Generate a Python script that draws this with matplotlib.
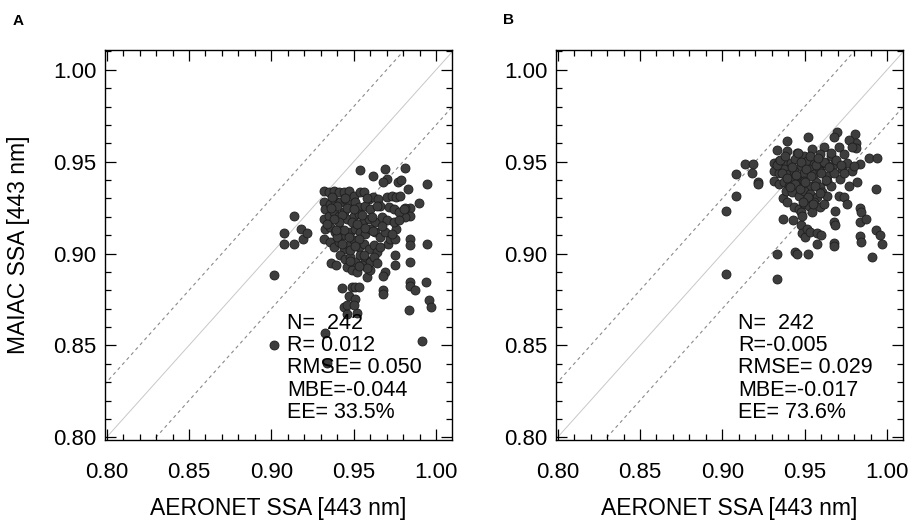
import matplotlib
matplotlib.use("Agg")
import matplotlib.pyplot as plt
from matplotlib.ticker import MultipleLocator, FormatStrFormatter

plt.rcParams['font.family'] = ['Liberation Sans', 'DejaVu Sans']

# ---------------- Panel A data (AERONET SSA, MAIAC SSA) ----------------
a_x = [
    # outliers / sparse points
    0.9017, 0.9017, 0.9078, 0.9078, 0.9139, 0.9139, 0.918, 0.919, 0.9216, 0.9317,
    0.9317, 0.9317, 0.9327, 0.934, 0.936, 0.939, 0.943, 0.944, 0.946, 0.947,
    0.949, 0.951, 0.951, 0.952, 0.953, 0.946, 0.950, 0.954, 0.962, 0.969,
    0.970, 0.968, 0.977, 0.979, 0.981, 0.983, 0.9945, 0.9895, 0.984, 0.981,
    0.984, 0.981, 0.976, 0.984, 0.984, 0.9945, 0.975, 0.975, 0.984, 0.984,
    0.984, 0.987, 0.994, 0.996, 0.997, 0.9834, 0.9915, 0.969, 0.968, 0.968,
    0.968, 0.958, 0.960, 0.971, 0.972, 0.975,
    # main cluster
    0.9348, 0.9378, 0.9408, 0.9439, 0.9469, 0.950, 0.954, 0.956, 0.959, 0.962,
    0.965, 0.970, 0.973, 0.976, 0.978,
    0.9327, 0.9358, 0.9388, 0.9418, 0.9449, 0.9479, 0.951, 0.953, 0.957, 0.960,
    0.9662, 0.9712, 0.9743, 0.9773, 0.9803,
    0.9317, 0.9348, 0.9378, 0.9408, 0.9439, 0.9459, 0.950, 0.953, 0.956, 0.959,
    0.9631, 0.9672, 0.9702, 0.9743, 0.9773,
    0.9327, 0.9358, 0.9388, 0.9418, 0.9449, 0.9479, 0.951, 0.954, 0.957, 0.960,
    0.9631, 0.9662, 0.9692, 0.9733,
    0.9358, 0.9378, 0.9408, 0.9439, 0.9469, 0.950, 0.953, 0.956, 0.959, 0.9621,
    0.9641, 0.9662,
    0.9418, 0.9449, 0.9479, 0.951, 0.954, 0.957, 0.960, 0.9621, 0.9641,
    0.9459, 0.9489, 0.952, 0.955, 0.958,
    # dense core
    0.937, 0.940, 0.943, 0.946, 0.949, 0.941, 0.938, 0.944, 0.947, 0.952,
    0.955, 0.950, 0.936, 0.934, 0.940, 0.943, 0.948, 0.953, 0.957, 0.961,
    0.964, 0.958, 0.945, 0.939, 0.951, 0.956, 0.948, 0.953, 0.962, 0.967,
]
a_y = [
    0.8883, 0.8501, 0.9112, 0.9050, 0.9204, 0.9050, 0.9135, 0.9077, 0.911, 0.934,
    0.928, 0.908, 0.857, 0.8405, 0.8946, 0.894, 0.881, 0.871, 0.867, 0.877,
    0.882, 0.882, 0.875, 0.8676, 0.882, 0.872, 0.872, 0.9454, 0.9423, 0.946,
    0.9405, 0.939, 0.9387, 0.940, 0.9463, 0.935, 0.938, 0.9276, 0.925, 0.925,
    0.9207, 0.920, 0.9135, 0.908, 0.9045, 0.905, 0.899, 0.8937, 0.8955, 0.8847,
    0.8825, 0.880, 0.8843, 0.8748, 0.871, 0.8694, 0.8523, 0.890, 0.888, 0.880,
    0.878, 0.887, 0.891, 0.9054, 0.908, 0.908,
    0.9333, 0.9342, 0.9337, 0.9333, 0.9342, 0.9315, 0.9337, 0.9333, 0.9297, 0.9306,
    0.9297, 0.9306, 0.9315, 0.9306, 0.9315,
    0.9243, 0.927, 0.9288, 0.928, 0.9297, 0.927, 0.928, 0.9252, 0.9261, 0.9243,
    0.9261, 0.9252, 0.9243, 0.9225, 0.9243,
    0.919, 0.9207, 0.9225, 0.9207, 0.9225, 0.919, 0.9207, 0.9216, 0.918, 0.919,
    0.917, 0.9198, 0.918, 0.917, 0.918,
    0.9135, 0.9144, 0.9117, 0.9135, 0.910, 0.9117, 0.9135, 0.9117, 0.9108, 0.9135,
    0.9117, 0.909, 0.9117, 0.9108,
    0.9063, 0.9036, 0.9063, 0.9027, 0.9045, 0.9072, 0.9036, 0.9054, 0.9027, 0.9045,
    0.901, 0.9036,
    0.899, 0.8973, 0.8982, 0.8955, 0.899, 0.8973, 0.8955, 0.8982, 0.8946,
    0.8928, 0.891, 0.890, 0.8937, 0.8919,
    0.931, 0.926, 0.921, 0.925, 0.917, 0.917, 0.919, 0.913, 0.909, 0.916,
    0.921, 0.924, 0.925, 0.916, 0.909, 0.905, 0.902, 0.908, 0.914, 0.920,
    0.926, 0.930, 0.930, 0.913, 0.904, 0.899, 0.896, 0.893, 0.912, 0.915,
]

# ---------------- Panel B data ----------------
b_x = [
    0.902, 0.902, 0.908, 0.908, 0.9137, 0.9188, 0.9178, 0.9216, 0.9216, 0.933,
    0.933, 0.933, 0.939, 0.937, 0.937, 0.943, 0.944, 0.9455, 0.952, 0.952,
    0.9475, 0.9485, 0.950, 0.9515, 0.9535, 0.9575, 0.960, 0.9575, 0.9677, 0.9677,
    0.9677, 0.9687, 0.9687, 0.971, 0.9737, 0.9758, 0.977, 0.9818, 0.9835, 0.984,
    0.9835, 0.987, 0.9835, 0.984, 0.991, 0.9935, 0.9935, 0.996, 0.997, 0.989,
    0.994, 0.9808, 0.981, 0.981, 0.9697, 0.9677, 0.977, 0.971, 0.9616, 0.979,
    0.9838, 0.979, 0.9727, 0.9717,
    # main cluster
    0.9394, 0.9455, 0.9495, 0.9545, 0.9596, 0.9657, 0.9737,
    0.9313, 0.9343, 0.9374, 0.9414, 0.9444, 0.9475, 0.9515, 0.9556, 0.9586, 0.9626,
    0.9677, 0.9758, 0.9798,
    0.9313, 0.9343, 0.9374, 0.9404, 0.9434, 0.9465, 0.9495, 0.9525, 0.9556, 0.9596,
    0.9636, 0.9677, 0.9737,
    0.9313, 0.9343, 0.9374, 0.9404, 0.9434, 0.9465, 0.9495, 0.9525, 0.9566, 0.9596,
    0.9636, 0.9657,
    0.9384, 0.9424, 0.9465, 0.9495, 0.9535, 0.9576, 0.9606, 0.9636,
    0.9394, 0.9434, 0.9465, 0.9495, 0.9525, 0.9556, 0.9596, 0.9616,
    0.9475, 0.9485, 0.9545,
    # dense core
    0.933, 0.936, 0.939, 0.942, 0.945, 0.948, 0.951, 0.954, 0.957, 0.960,
    0.935, 0.938, 0.944, 0.947, 0.950, 0.953, 0.956, 0.959, 0.962, 0.965,
    0.941, 0.952, 0.955, 0.949, 0.966, 0.969, 0.972, 0.963, 0.958, 0.946,
]
b_y = [
    0.923, 0.889, 0.9432, 0.9312, 0.9486, 0.949, 0.944, 0.939, 0.938, 0.900,
    0.886, 0.9562, 0.9613, 0.930, 0.919, 0.918, 0.901, 0.900, 0.900, 0.9634,
    0.9153, 0.911, 0.909, 0.9135, 0.9117, 0.911, 0.910, 0.9054, 0.906, 0.904,
    0.917, 0.9153, 0.923, 0.9315, 0.931, 0.927, 0.937, 0.939, 0.925, 0.9225,
    0.917, 0.919, 0.9094, 0.9063, 0.8982, 0.935, 0.9126, 0.910, 0.9054, 0.952,
    0.952, 0.9652, 0.960, 0.9576, 0.9661, 0.9634, 0.962, 0.958, 0.958, 0.958,
    0.9486, 0.945, 0.946, 0.9405,
    0.9559, 0.955, 0.9532, 0.9568, 0.954, 0.9532, 0.954,
    0.9495, 0.9505, 0.9486, 0.9495, 0.9514, 0.9477, 0.9505, 0.9486, 0.9468, 0.9495,
    0.9486, 0.9495, 0.9477,
    0.945, 0.9441, 0.9459, 0.9432, 0.945, 0.9423, 0.9441, 0.9459, 0.9432, 0.945,
    0.9423, 0.9441, 0.9441,
    0.9396, 0.9378, 0.939, 0.9369, 0.9396, 0.9378, 0.9396, 0.9369, 0.9387, 0.936,
    0.9396, 0.9369,
    0.9342, 0.9333, 0.9315, 0.9342, 0.9324, 0.9306, 0.9333, 0.9315,
    0.928, 0.9252, 0.9243, 0.927, 0.9261, 0.928, 0.9252, 0.927,
    0.9225, 0.9207, 0.9225,
    0.948, 0.944, 0.941, 0.947, 0.943, 0.950, 0.946, 0.942, 0.948, 0.944,
    0.951, 0.953, 0.938, 0.935, 0.939, 0.953, 0.937, 0.933, 0.950, 0.947,
    0.936, 0.931, 0.927, 0.928, 0.955, 0.951, 0.948, 0.940, 0.952, 0.955,
]

stats_a = ["N=  242", "R= 0.012", "RMSE= 0.050", "MBE=-0.044", "EE= 33.5%"]
stats_b = ["N=  242", "R=-0.005", "RMSE= 0.029", "MBE=-0.017", "EE= 73.6%"]
panel_labels = ["A", "B"]
ee_offset = 0.03
lim_lo, lim_hi = 0.80, 1.00

fig = plt.figure(figsize=(9.13, 5.21), dpi=100)
W, H = 913.0, 521.0
ax_a = fig.add_axes([105 / W, 1 - 440 / H, 347 / W, 390 / H])
ax_b = fig.add_axes([556 / W, 1 - 440 / H, 347 / W, 390 / H])

text_ys = [0.862, 0.850, 0.8378, 0.8255, 0.8135]

for ax, xs, ys, stats, lab, in zip([ax_a, ax_b], [a_x, b_x], [a_y, b_y],
                                   [stats_a, stats_b], panel_labels):
    line = [lim_lo - 0.05, lim_hi + 0.05]
    ax.plot(line, line, color='#c8c8c8', lw=0.7, zorder=1)
    ax.plot(line, [v + ee_offset for v in line], color='#8a8a8a', lw=0.8,
            ls=(0, (3, 3)), zorder=1)
    ax.plot(line, [v - ee_offset for v in line], color='#8a8a8a', lw=0.8,
            ls=(0, (3, 3)), zorder=1)
    ax.scatter(xs, ys, s=42, facecolor='#3d3d3d', edgecolor='#1e1e1e',
               linewidths=0.6, zorder=3)
    for t, yv in zip(stats, text_ys):
        ax.text(0.9098, yv, t, fontsize=15.5, va='center', ha='left', zorder=4)
    ax.set_xlim(0.799, 1.0097)
    ax.set_ylim(0.7985, 1.0108)
    ax.xaxis.set_major_locator(MultipleLocator(0.05))
    ax.yaxis.set_major_locator(MultipleLocator(0.05))
    ax.xaxis.set_minor_locator(MultipleLocator(0.01))
    ax.yaxis.set_minor_locator(MultipleLocator(0.01))
    ax.xaxis.set_major_formatter(FormatStrFormatter('%.2f'))
    ax.yaxis.set_major_formatter(FormatStrFormatter('%.2f'))
    ax.tick_params(which='both', direction='in', top=True, right=True,
                   color='black', width=0.9)
    ax.tick_params(which='major', length=8, labelsize=16)
    ax.tick_params(which='minor', length=4.5)
    ax.tick_params(axis='x', which='major', pad=16)
    ax.tick_params(axis='y', which='major', pad=6)
    for sp in ax.spines.values():
        sp.set_linewidth(1.0)
    ax.set_xlabel('AERONET SSA [443 nm]', fontsize=16.5, labelpad=10)

ax_a.set_ylabel('MAIAC SSA [443 nm]', fontsize=16.5, labelpad=17)
fig.text(18 / W, 1 - 21 / H, 'A', fontsize=11, fontweight='bold', va='center', ha='center')
fig.text(508 / W, 1 - 20 / H, 'B', fontsize=11, fontweight='bold', va='center', ha='center')

fig.savefig('out.png', dpi=100)
